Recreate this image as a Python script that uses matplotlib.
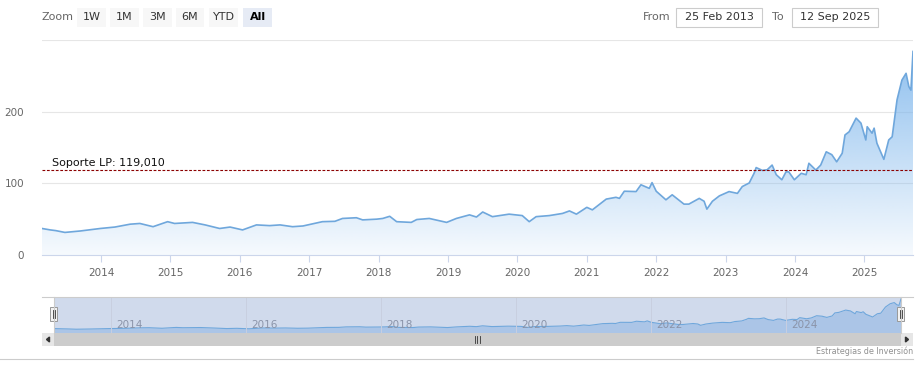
import numpy as np
import matplotlib
matplotlib.use("Agg")
import matplotlib.pyplot as plt
from matplotlib.patches import Rectangle, Polygon
from matplotlib.lines import Line2D

W, H = 920, 375

# ---- data (decimal year, price) --------------------------------------------
YEARS = [2013.15, 2013.27, 2013.35, 2013.48, 2013.70, 2013.99, 2014.20, 2014.42,
         2014.56, 2014.75, 2014.96, 2015.06, 2015.32, 2015.50, 2015.71, 2015.86,
         2016.04, 2016.24, 2016.43, 2016.58, 2016.76, 2016.91, 2017.19, 2017.37,
         2017.48, 2017.68, 2017.77, 2017.97, 2018.06, 2018.16, 2018.26, 2018.47,
         2018.55, 2018.73, 2018.98, 2019.12, 2019.31, 2019.41, 2019.50, 2019.64,
         2019.88, 2020.07, 2020.17, 2020.27, 2020.46, 2020.65, 2020.75, 2020.85,
         2021.00, 2021.08, 2021.28, 2021.42, 2021.47, 2021.54, 2021.71, 2021.78,
         2021.90, 2021.94, 2022.00, 2022.14, 2022.23, 2022.40, 2022.47, 2022.62,
         2022.69, 2022.73, 2022.81, 2022.91, 2023.05, 2023.17, 2023.24, 2023.34,
         2023.41, 2023.44, 2023.53, 2023.60, 2023.67, 2023.73, 2023.81, 2023.87,
         2023.91, 2023.99, 2024.09, 2024.16, 2024.20, 2024.30, 2024.37, 2024.45,
         2024.53, 2024.60, 2024.68, 2024.72, 2024.78, 2024.88, 2024.95, 2025.02,
         2025.04, 2025.11, 2025.14, 2025.18, 2025.28, 2025.35, 2025.40, 2025.47,
         2025.54, 2025.60, 2025.64, 2025.67, 2025.70]
PRICES = [37, 35, 34, 31.5, 33.5, 37, 39, 43,
          44, 39.5, 46.5, 44, 45.5, 42, 37, 39,
          35, 42, 41, 42, 39.5, 40.5, 46.5, 47,
          51, 52, 49, 50, 51, 54, 46.5, 45.5,
          49.5, 51, 45.5, 51, 56, 53, 60, 53.5,
          57, 55, 46.5, 53.5, 55, 58, 61.5, 57,
          66.5, 63, 78, 80.5, 79, 89, 88.5, 98,
          93, 101, 89, 77, 84, 71, 71, 79,
          75, 64, 75, 82.5, 88.5, 86, 95.5, 100.5,
          114, 122, 118, 119, 125.5, 112, 105, 116,
          116, 105, 114, 112, 128, 118.5, 125.5, 144,
          140, 130, 142, 167.5, 172, 191, 184, 160.5,
          179, 170, 177, 156, 133.5, 160.5, 165, 216.5,
          244, 253.5, 235, 230, 284]

SUPPORT = 119.010
YEAR_TICKS = list(range(2014, 2026))
NAV_TICKS = [2014, 2016, 2018, 2020, 2022, 2024]
Y_TICKS = [0, 100, 200]
BUTTONS = ["1W", "1M", "3M", "6M", "YTD", "All"]
DATE_FROM = "25 Feb 2013"
DATE_TO = "12 Sep 2025"

LINE = "#6fa7dc"
BASE = np.array([124, 181, 236]) / 255.0
GRID = "#e6e6e6"
TXT = "#666666"


def fx(px):
    return px / W


def fy(py):
    return 1 - py / H


def frect(fig, x0, y0, x1, y1, **kw):
    r = Rectangle((fx(x0), fy(y1)), fx(x1) - fx(x0), fy(y0) - fy(y1),
                  transform=fig.transFigure, **kw)
    fig.add_artist(r)
    return r


def fline(fig, xs, ys, **kw):
    fig.add_artist(Line2D([fx(v) for v in xs], [fy(v) for v in ys],
                          transform=fig.transFigure, **kw))


fig = plt.figure(figsize=(W / 100, H / 100), dpi=100)
fig.patch.set_facecolor("white")
x0, x1 = YEARS[0], YEARS[-1]

# ---- main chart ------------------------------------------------------------
ax = fig.add_axes([fx(42), fy(255), fx(913) - fx(42), fy(40) - fy(255)])
ax.set_xlim(x0, x1)
ax.set_ylim(0, 300)
for v in [100, 200, 300]:
    ax.axhline(v, color=GRID, lw=0.8, zorder=0)

# gradient fill under the line
poly = Polygon(list(zip(YEARS, PRICES)) + [(x1, 0), (x0, 0)],
               closed=True, facecolor="none", edgecolor="none")
ax.add_patch(poly)
grad = np.zeros((256, 2, 4))
alpha = np.linspace(0.9, 0.07, 256)
grad[:, :, :3] = BASE
grad[:, :, 3] = alpha[:, None]
im = ax.imshow(grad, extent=[x0, x1, 0, 300], aspect="auto", zorder=1,
               interpolation="bilinear")
im.set_clip_path(poly)
ax.plot(YEARS, PRICES, color=LINE, lw=1.2, zorder=3, solid_joinstyle="round")

ax.axhline(SUPPORT, color="#8b0000", lw=0.8, ls=(0, (2.5, 1.5)), zorder=4)
ax.text(2013.3, SUPPORT + 3, "Soporte LP: 119,010", fontsize=8, color="#111111",
        va="bottom", ha="left", zorder=5)

for s in ["top", "right", "left"]:
    ax.spines[s].set_visible(False)
ax.spines["bottom"].set_color("#ccd6eb")
ax.set_xticks(YEAR_TICKS)
ax.set_xticklabels([str(y) for y in YEAR_TICKS])
ax.set_yticks(Y_TICKS)
ax.tick_params(axis="x", colors="#ccd6eb", labelcolor=TXT, labelsize=7.5,
               length=5, width=0.8, pad=4)
ax.tick_params(axis="y", length=0, labelcolor=TXT, labelsize=7.5, pad=13)

# ---- navigator -------------------------------------------------------------
nav = fig.add_axes([fx(54), fy(333), fx(901) - fx(54), fy(297) - fy(333)])
nav.set_xlim(x0, x1)
nav.set_ylim(0, 300)
nav.fill_between(YEARS, PRICES, 0, color="#7cb5ec", alpha=0.4, lw=0)
nav.plot(YEARS, PRICES, color=LINE, lw=0.8)
for t in NAV_TICKS:
    nav.axvline(t, color="#c8cfe0", lw=0.7)
    nav.text(t + 0.07, 25, str(t), fontsize=7.5, color="#8a93a8", va="bottom")
nav.axvspan(x0, x1, color=(102 / 255, 133 / 255, 194 / 255), alpha=0.3, lw=0)
nav.set_xticks([])
nav.set_yticks([])
for s in nav.spines.values():
    s.set_visible(False)

fline(fig, [42, 913], [297, 297], color="#cccccc", lw=0.8)
fline(fig, [54, 54], [297, 333], color="#cccccc", lw=0.8)
fline(fig, [901, 901], [297, 333], color="#cccccc", lw=0.8)

# handles
for hx in (54, 901):
    frect(fig, hx - 3.5, 307, hx + 3.5, 321, facecolor="#f2f2f2",
          edgecolor="#999999", lw=0.7)
    fline(fig, [hx - 1, hx - 1], [310, 318], color="#333333", lw=0.6)
    fline(fig, [hx + 1, hx + 1], [310, 318], color="#333333", lw=0.6)

# scrollbar
frect(fig, 42, 333, 913, 346, facecolor="#f2f2f2", edgecolor="none")
frect(fig, 54, 333, 901, 346, facecolor="#cccccc", edgecolor="none")
frect(fig, 42, 333, 54, 346, facecolor="#e6e6e6", edgecolor="none")
frect(fig, 901, 333, 913, 346, facecolor="#e6e6e6", edgecolor="none")
fig.add_artist(Polygon([(fx(46.5), fy(339.5)), (fx(49.5), fy(337)),
                        (fx(49.5), fy(342))], closed=True,
                       transform=fig.transFigure, color="#333333"))
fig.add_artist(Polygon([(fx(908.5), fy(339.5)), (fx(905.5), fy(337)),
                        (fx(905.5), fy(342))], closed=True,
                       transform=fig.transFigure, color="#333333"))
for gx in (475, 477.5, 480):
    fline(fig, [gx, gx], [336, 343], color="#333333", lw=0.6)

fline(fig, [0, 913], [359, 359], color="#cccccc", lw=0.8)
fig.text(fx(913), fy(351), "Estrategias de Inversión", fontsize=5.8,
         color="#909090", ha="right", va="center")

# ---- range selector + date inputs -----------------------------------------
fig.text(fx(42), fy(17.5), "Zoom", fontsize=8, color=TXT, va="center")
bx = [77, 110, 143, 176, 209, 243]
bw = [29, 29, 29, 28, 29, 29]
for lab, x, w in zip(BUTTONS, bx, bw):
    sel = lab == "All"
    frect(fig, x, 8, x + w, 27, facecolor="#e6ebf5" if sel else "#f7f7f7",
          edgecolor="none")
    fig.text(fx(x + w / 2), fy(17.5), lab, fontsize=8, ha="center", va="center",
             color="#000000" if sel else "#333333",
             fontweight="bold" if sel else "normal")

fig.text(fx(643), fy(17.5), "From", fontsize=8, color=TXT, va="center")
frect(fig, 676, 8, 762, 27, facecolor="white", edgecolor="#cccccc", lw=0.8)
fig.text(fx(719), fy(17.5), DATE_FROM, fontsize=8, color="#333333",
         ha="center", va="center")
fig.text(fx(772), fy(17.5), "To", fontsize=8, color=TXT, va="center")
frect(fig, 792, 8, 878, 27, facecolor="white", edgecolor="#cccccc", lw=0.8)
fig.text(fx(835), fy(17.5), DATE_TO, fontsize=8, color="#333333",
         ha="center", va="center")

fig.savefig("out.png", dpi=100)
